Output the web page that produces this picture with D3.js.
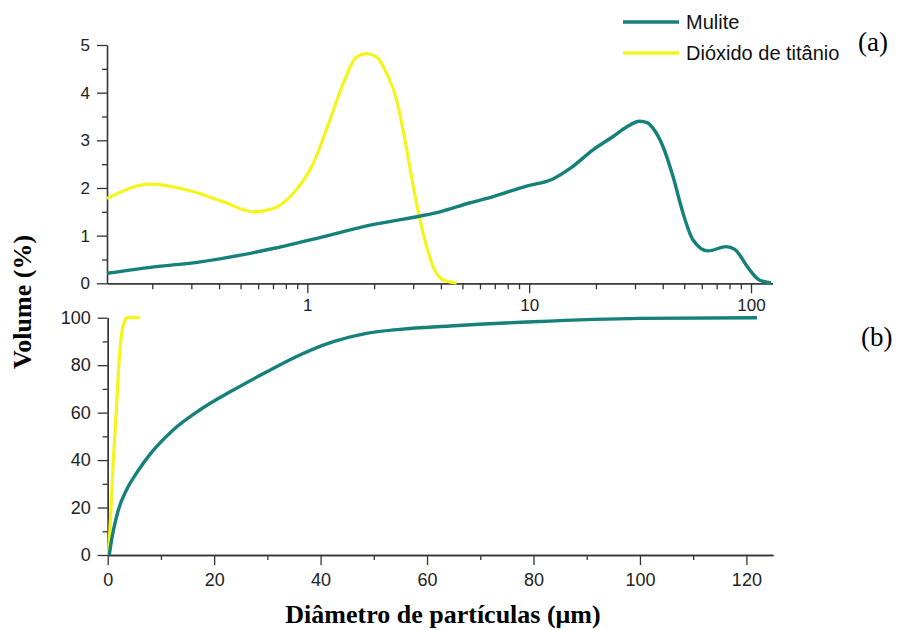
<!DOCTYPE html>
<meta charset="utf-8">
<script src="https://cdn.jsdelivr.net/npm/d3@7"></script>
<style>
    body { margin: 0; background: #fff; }
    .tick text { font-family: "Liberation Sans", Arial, sans-serif; fill: #222; }
    .domain, .tick line { stroke: #333; stroke-width: 1.3px; }
</style>
<div id="my_dataviz"></div>
<script>
    // (a) frequency distribution, log diameter axis
    var mulDiam = [0.125, 0.2, 0.33, 0.5, 0.7, 1.14, 1.92, 3.22, 3.96, 5.41, 6.88, 9.73, 12.8, 15.3, 19.4, 23.9, 27.5, 31.5, 34, 36.2, 40.1, 44.5, 49.4, 54.8, 64, 77.4, 84.5, 98.6, 109, 123];
    var mulFreq = [0.21, 0.34, 0.45, 0.59, 0.73, 0.96, 1.22, 1.41, 1.50, 1.69, 1.82, 2.04, 2.19, 2.41, 2.80, 3.08, 3.28, 3.40, 3.37, 3.25, 2.87, 2.24, 1.47, 0.91, 0.68, 0.77, 0.71, 0.28, 0.07, 0.01];
    var tioDiam = [0.125, 0.196, 0.307, 0.418, 0.571, 0.703, 0.865, 1.064, 1.265, 1.453, 1.669, 1.852, 2.054, 2.279, 2.527, 2.754, 3.003, 3.219, 3.45, 3.69, 4.10, 4.71];
    var tioFreq = [1.78, 2.08, 1.92, 1.71, 1.50, 1.57, 1.89, 2.52, 3.43, 4.20, 4.75, 4.82, 4.75, 4.40, 3.85, 3.01, 2.03, 1.33, 0.77, 0.35, 0.07, 0.01];

    // (b) cumulative distribution, linear diameter axis
    var mulCumDiam = [0.3, 0.62, 1.37, 2.0, 3.57, 5.5, 7.94, 12.3, 17.3, 23.6, 29.9, 36.1, 42.4, 48.6, 54.9, 64.3, 80, 100, 122];
    var mulCum = [0, 4.9, 13.4, 19, 27.6, 34.8, 42.4, 52.7, 61.1, 69.5, 77.2, 84.3, 89.9, 93.4, 95.1, 96.5, 98.3, 99.7, 100];
    var tioCumDiam = [0.12, 0.3, 0.63, 1.06, 1.6, 2.1, 2.6, 3.2, 3.6, 6.0];
    var tioCum = [0, 6, 20, 40, 60, 80, 93, 98.5, 100, 100];

    // ticks
    var topXMajor = [1, 10, 100];
    var topXMinor = [0.2, 0.3, 0.4, 0.5, 0.6, 0.7, 0.8, 0.9, 2, 3, 4, 5, 6, 7, 8, 9, 20, 30, 40, 50, 60, 70, 80, 90];
    var topYMajor = [0, 1, 2, 3, 4, 5];
    var topYMinor = [0.5, 1.5, 2.5, 3.5, 4.5];
    var botXMajor = [0, 20, 40, 60, 80, 100, 120];
    var botXMinor = [10, 30, 50, 70, 90, 110];
    var botYMajor = [0, 20, 40, 60, 80, 100];
    var botYMinor = [10, 30, 50, 70, 90];

    var seriesNames = ["Mulite", "Dióxido de titânio"];
    var colors = ["#16807a", "#f5f51c"];

    var width = 900, height = 630;

    var svg = d3.select("#my_dataviz")
        .append("svg")
        .attr("width", width)
        .attr("height", height);

    // ---- panel (a)
    var xa = d3.scaleLog().domain([0.125, 125]).range([107, 772.5]);
    var ya = d3.scaleLinear().domain([0, 5]).range([283.3, 45]);

    svg.append("g")
        .attr("transform", "translate(0," + ya(0) + ")")
        .call(d3.axisBottom(xa).tickValues(topXMinor).tickSize(6).tickFormat("").tickSizeOuter(0));
    svg.append("g")
        .attr("transform", "translate(0," + ya(0) + ")")
        .call(d3.axisBottom(xa).tickValues(topXMajor).tickSize(10).tickPadding(6).tickFormat(d3.format("d")).tickSizeOuter(0))
        .selectAll("text").style("font-size", "17px");

    svg.append("g")
        .attr("transform", "translate(" + xa.range()[0] + ",0)")
        .call(d3.axisLeft(ya).tickValues(topYMinor).tickSize(5).tickFormat("").tickSizeOuter(0));
    svg.append("g")
        .attr("transform", "translate(" + xa.range()[0] + ",0)")
        .call(d3.axisLeft(ya).tickValues(topYMajor).tickSize(10).tickPadding(7).tickFormat(d3.format("d")).tickSizeOuter(0))
        .selectAll("text").style("font-size", "17px");

    var lineA = d3.line()
        .x(function(d) { return xa(d[0]); })
        .y(function(d) { return ya(d[1]); })
        .curve(d3.curveMonotoneX);

    svg.append("path")
        .datum(d3.zip(tioDiam, tioFreq))
        .attr("fill", "none")
        .attr("stroke", colors[1])
        .attr("stroke-width", 3.2)
        .attr("d", lineA);

    svg.append("path")
        .datum(d3.zip(mulDiam, mulFreq))
        .attr("fill", "none")
        .attr("stroke", colors[0])
        .attr("stroke-width", 3.4)
        .attr("d", lineA);

    // ---- panel (b)
    var xb = d3.scaleLinear().domain([0, 125]).range([107.7, 773]);
    var yb = d3.scaleLinear().domain([0, 100]).range([555, 317.7]);

    svg.append("g")
        .attr("transform", "translate(0," + yb(0) + ")")
        .call(d3.axisBottom(xb).tickValues(botXMinor).tickSize(5).tickFormat("").tickSizeOuter(0));
    svg.append("g")
        .attr("transform", "translate(0," + yb(0) + ")")
        .call(d3.axisBottom(xb).tickValues(botXMajor).tickSize(10).tickPadding(8).tickSizeOuter(0))
        .selectAll("text").style("font-size", "18px");

    svg.append("g")
        .attr("transform", "translate(" + xb(0) + ",0)")
        .call(d3.axisLeft(yb).tickValues(botYMinor).tickSize(5).tickFormat("").tickSizeOuter(0));
    svg.append("g")
        .attr("transform", "translate(" + xb(0) + ",0)")
        .call(d3.axisLeft(yb).tickValues(botYMajor).tickSize(10).tickPadding(7).tickSizeOuter(0))
        .selectAll("text").style("font-size", "18px");

    var lineB = d3.line()
        .x(function(d) { return xb(d[0]); })
        .y(function(d) { return yb(d[1]); })
        .curve(d3.curveMonotoneX);

    svg.append("path")
        .datum(d3.zip(tioCumDiam, tioCum))
        .attr("fill", "none")
        .attr("stroke", colors[1])
        .attr("stroke-width", 3.2)
        .attr("d", lineB);

    svg.append("path")
        .datum(d3.zip(mulCumDiam, mulCum))
        .attr("fill", "none")
        .attr("stroke", colors[0])
        .attr("stroke-width", 3.4)
        .attr("d", lineB);

    // legend
    var legend = svg.append("g");
    seriesNames.forEach(function(name, i) {
        var yy = 22 + i * 31;
        legend.append("line")
            .attr("x1", 623).attr("x2", 679)
            .attr("y1", yy).attr("y2", yy)
            .attr("stroke", colors[i])
            .attr("stroke-width", 3.5);
        legend.append("text")
            .attr("x", 686)
            .attr("y", yy)
            .attr("dy", "0.35em")
            .style("font-family", "Liberation Sans, Arial, sans-serif")
            .style("font-size", "20px")
            .style("fill", "#111")
            .text(name);
    });

    // panel labels
    svg.append("text")
        .attr("x", 858).attr("y", 51)
        .style("font-family", "Liberation Serif, Times New Roman, serif")
        .style("font-size", "27px")
        .text("(a)");
    svg.append("text")
        .attr("x", 861).attr("y", 346)
        .style("font-family", "Liberation Serif, Times New Roman, serif")
        .style("font-size", "27px")
        .text("(b)");

    // axis titles
    svg.append("text")
        .attr("text-anchor", "middle")
        .attr("transform", "translate(31,302) rotate(-90)")
        .style("font-family", "Liberation Serif, Times New Roman, serif")
        .style("font-weight", "bold")
        .style("font-size", "26px")
        .text("Volume (%)");

    svg.append("text")
        .attr("text-anchor", "middle")
        .attr("x", 443)
        .attr("y", 623)
        .style("font-family", "Liberation Serif, Times New Roman, serif")
        .style("font-weight", "bold")
        .style("font-size", "26px")
        .text("Diâmetro de partículas (μm)");
</script>
